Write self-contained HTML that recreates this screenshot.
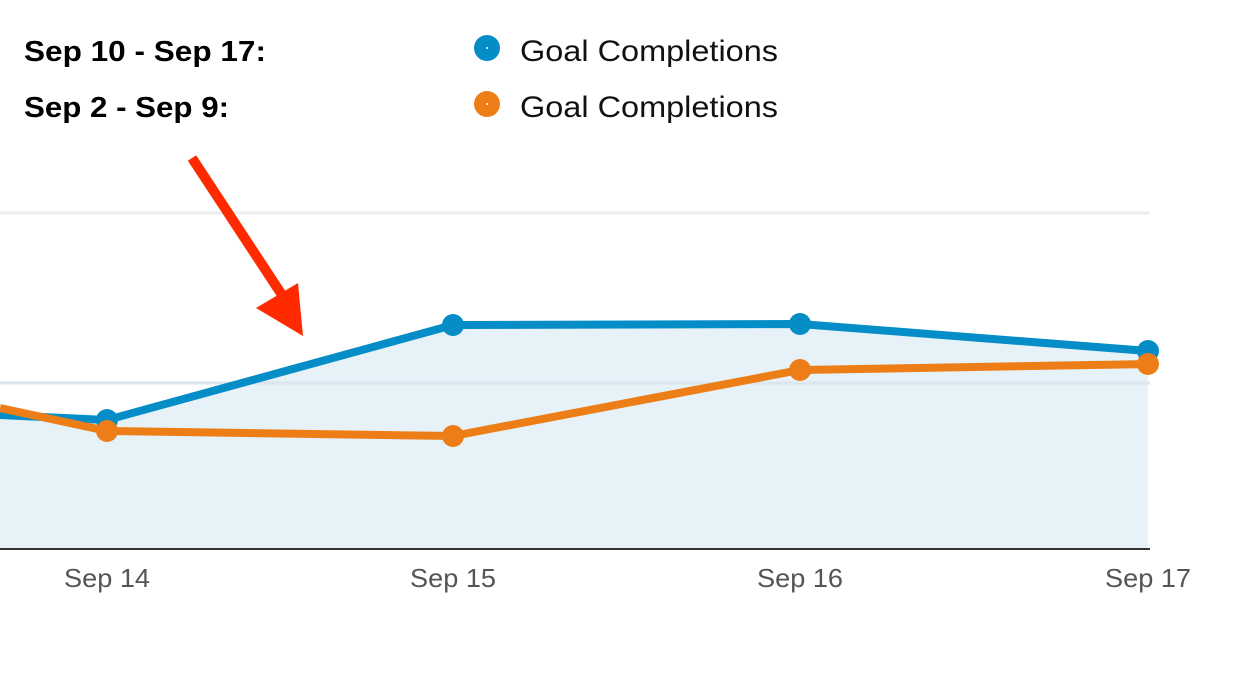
<!DOCTYPE html>
<html><head><style>
body{margin:0;background:#fff;width:1245px;height:675px;overflow:hidden}
</style></head><body>
<svg width="1245" height="675" xmlns="http://www.w3.org/2000/svg" style="font-family:'Liberation Sans',sans-serif">
<text x="24" y="61" font-size="29" font-weight="bold" fill="#000" textLength="242" lengthAdjust="spacingAndGlyphs">Sep 10 - Sep 17:</text>
<text x="24" y="117" font-size="29" font-weight="bold" fill="#000" textLength="205" lengthAdjust="spacingAndGlyphs">Sep 2 - Sep 9:</text>
<circle cx="487" cy="48" r="13" fill="#058dc7"/><circle cx="487" cy="48" r="1" fill="#fff"/>
<circle cx="487" cy="104" r="13" fill="#ed7e17"/><circle cx="487" cy="104" r="1" fill="#fff"/>
<text x="520" y="61" font-size="30" fill="#111" textLength="258" lengthAdjust="spacingAndGlyphs">Goal Completions</text>
<text x="520" y="117" font-size="30" fill="#111" textLength="258" lengthAdjust="spacingAndGlyphs">Goal Completions</text>
<line x1="0" y1="213" x2="1150" y2="213" stroke="#eeeeee" stroke-width="3"/>
<polygon points="0,415 107,420 453,325 800,324 1148,351 1148,549 0,549" fill="#e6f1f8"/>
<line x1="0" y1="383" x2="1150" y2="383" stroke="#dbe6ee" stroke-width="3"/>
<line x1="0" y1="549" x2="1150" y2="549" stroke="#333" stroke-width="2"/>
<polyline points="0,415 107,420 453,325 800,324 1148,351" fill="none" stroke="#058dc7" stroke-width="8" stroke-linejoin="round"/>
<g fill="#058dc7"><circle cx="107" cy="420" r="11"/><circle cx="453" cy="325" r="11"/><circle cx="800" cy="324" r="11"/><circle cx="1148" cy="351" r="11"/></g>
<polyline points="0,408 107,431 453,436 800,370 1148,364" fill="none" stroke="#ed7e17" stroke-width="8" stroke-linejoin="round"/>
<g fill="#ed7e17"><circle cx="107" cy="431" r="11"/><circle cx="453" cy="436" r="11"/><circle cx="800" cy="370" r="11"/><circle cx="1148" cy="364" r="11"/></g>
<line x1="192" y1="158" x2="284" y2="298" stroke="#ff2a00" stroke-width="10"/>
<polygon points="256,308 298,283 303,336" fill="#ff2a00"/>
<g font-size="26" fill="#555">
<text x="64" y="587" textLength="86" lengthAdjust="spacingAndGlyphs">Sep 14</text>
<text x="410" y="587" textLength="86" lengthAdjust="spacingAndGlyphs">Sep 15</text>
<text x="757" y="587" textLength="86" lengthAdjust="spacingAndGlyphs">Sep 16</text>
<text x="1105" y="587" textLength="86" lengthAdjust="spacingAndGlyphs">Sep 17</text>
</g>
</svg>
</body></html>
